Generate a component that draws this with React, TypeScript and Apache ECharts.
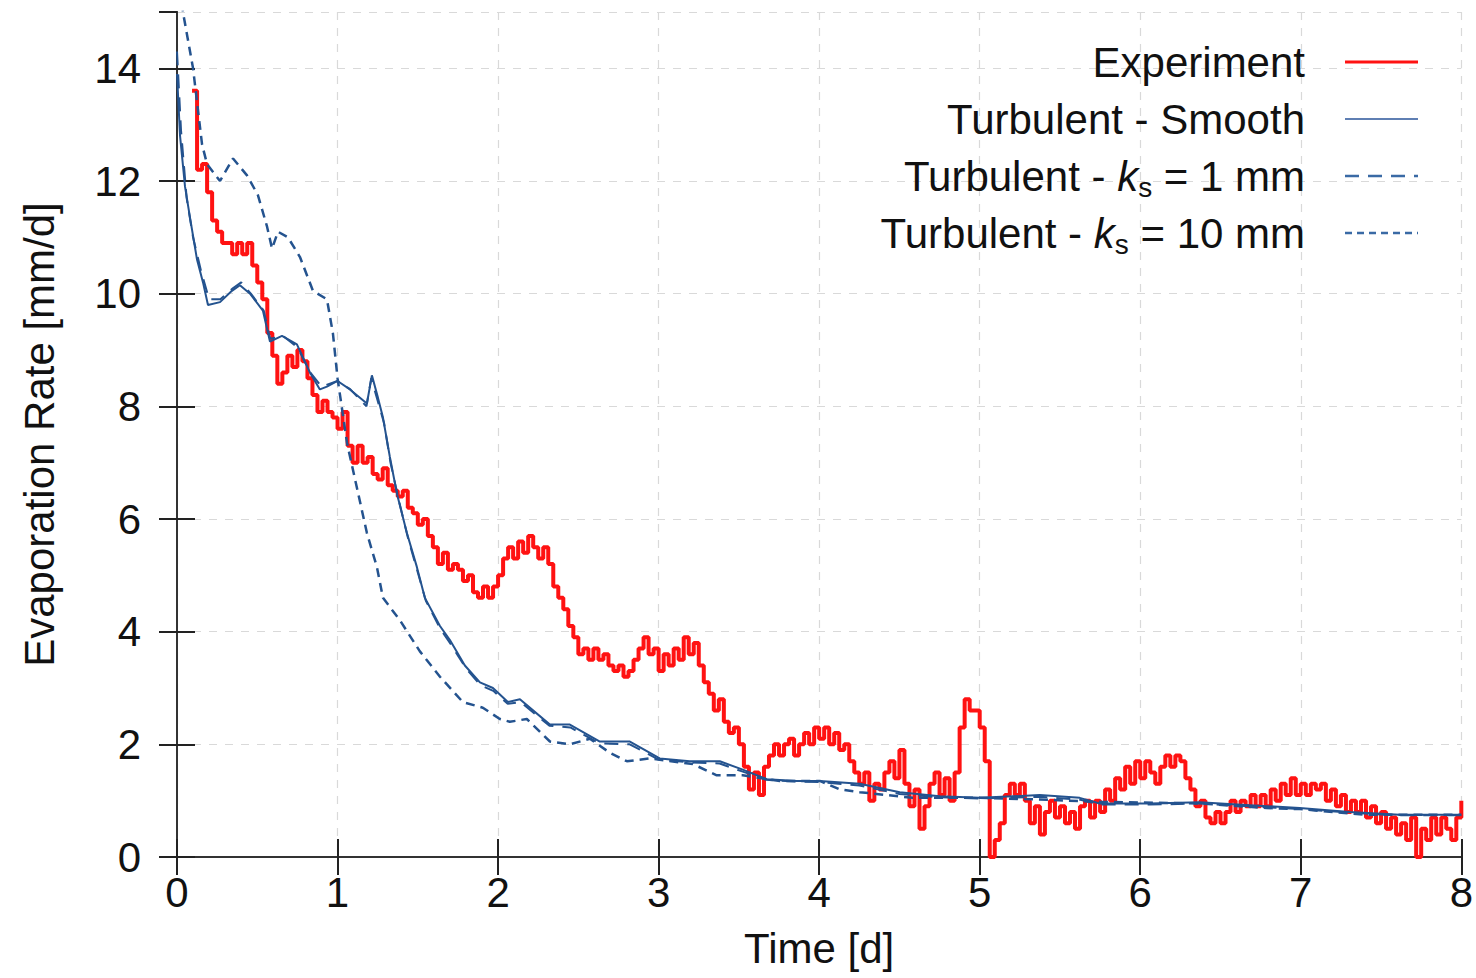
import React, { useEffect, useRef } from "react";
import * as echarts from "echarts";

// Experiment: sampled every 1/32 day starting at t = 3/32 d
const expStartIndex = 3;
const expStepDay = 1 / 32;
const expValues = [
  13.6, 12.2, 12.3, 11.8, 11.3, 11.1, 10.9, 10.9, 10.7, 10.9,
  10.7, 10.9, 10.5, 10.2, 9.9, 9.3, 8.9, 8.4, 8.6, 8.9,
  8.7, 9.0, 8.8, 8.5, 8.2, 7.9, 8.1, 7.9, 7.8, 7.6,
  7.9, 7.3, 7.0, 7.3, 7.0, 7.1, 6.8, 6.7, 6.9, 6.6,
  6.5, 6.4, 6.5, 6.2, 6.1, 5.9, 6.0, 5.7, 5.5, 5.2,
  5.4, 5.1, 5.2, 5.1, 4.9, 5.0, 4.7, 4.6, 4.8, 4.6,
  4.8, 5.0, 5.3, 5.5, 5.3, 5.6, 5.4, 5.7, 5.5, 5.3,
  5.5, 5.2, 4.8, 4.6, 4.4, 4.1, 3.9, 3.6, 3.7, 3.5,
  3.7, 3.5, 3.6, 3.4, 3.3, 3.4, 3.2, 3.3, 3.5, 3.7,
  3.9, 3.6, 3.7, 3.3, 3.6, 3.4, 3.7, 3.5, 3.9, 3.6,
  3.8, 3.4, 3.1, 2.9, 2.6, 2.8, 2.4, 2.2, 2.3, 2.0,
  1.6, 1.2, 1.5, 1.1, 1.6, 1.8, 2.0, 1.8, 2.0, 2.1,
  1.8, 2.0, 2.2, 2.0, 2.3, 2.1, 2.3, 2.0, 2.2, 1.9,
  2.0, 1.7, 1.5, 1.3, 1.5, 1.0, 1.3, 1.2, 1.5, 1.7,
  1.4, 1.9, 1.3, 0.9, 1.2, 0.5, 0.9, 1.3, 1.5, 1.1,
  1.4, 1.0, 1.5, 2.3, 2.8, 2.6, 2.6, 2.3, 1.7, 0.0,
  0.3, 0.6, 1.1, 1.3, 1.1, 1.3, 1.0, 0.6, 0.9, 0.4,
  0.8, 1.0, 0.7, 0.9, 0.6, 0.8, 0.5, 0.9, 1.0, 0.7,
  1.0, 0.8, 1.2, 1.0, 1.4, 1.2, 1.6, 1.3, 1.7, 1.4,
  1.7, 1.5, 1.3, 1.6, 1.8, 1.6, 1.8, 1.7, 1.4, 1.2,
  0.9, 1.0, 0.7, 0.6, 0.8, 0.6, 0.8, 1.0, 0.8, 1.0,
  0.9, 1.1, 0.9, 1.1, 0.9, 1.2, 1.0, 1.3, 1.1, 1.4,
  1.1, 1.3, 1.1, 1.3, 1.2, 1.3, 1.0, 1.2, 0.9, 1.1,
  0.8, 1.0, 0.8, 1.0, 0.7, 0.9, 0.6, 0.8, 0.5, 0.7,
  0.4, 0.6, 0.3, 0.7, 0.0, 0.5, 0.3, 0.7, 0.4, 0.7,
  0.5, 0.3, 0.7, 1.0,
];

// Turbulent - Smooth
const smoothT = [
  0, 0.019, 0.05, 0.081, 0.125, 0.162, 0.193, 0.268, 0.342, 0.392,
  0.455, 0.535, 0.579, 0.654, 0.747, 0.828, 0.89, 0.934, 1.0, 1.077,
  1.183, 1.214, 1.252, 1.283, 1.326, 1.37, 1.432, 1.494, 1.544, 1.638,
  1.7, 1.793, 1.887, 1.968, 2.061, 2.136, 2.323, 2.447, 2.634, 2.821,
  3.007, 3.194, 3.381, 3.524, 3.674, 3.861, 4.004, 4.253, 4.502, 4.751,
  5.0, 5.374, 5.623, 5.747, 6.059, 6.37, 6.681, 6.993, 7.304, 7.615, 8.0,
];
const smoothV = [
  13.9, 12.8, 11.9, 11.35, 10.6, 10.2, 9.8, 9.85, 10.05, 10.15,
  10.0, 9.7, 9.15, 9.25, 9.1, 8.6, 8.3, 8.35, 8.45, 8.3,
  8.05, 8.55, 8.15, 7.8, 7.1, 6.45, 5.75, 5.15, 4.6, 4.1,
  3.85, 3.4, 3.1, 3.0, 2.75, 2.8, 2.35, 2.35, 2.05, 2.05,
  1.75, 1.7, 1.7, 1.55, 1.38, 1.35, 1.35, 1.3, 1.15, 1.08,
  1.05, 1.1, 1.05, 0.95, 0.95, 0.97, 0.92, 0.87, 0.8, 0.75, 0.75,
];

// Turbulent - ks = 1 mm (nearly coincides with the smooth curve)
const ks1T = [
  0, 0.025, 0.06, 0.1, 0.15, 0.2, 0.27, 0.35, 0.4, 0.46,
  0.54, 0.58, 0.66, 0.75, 0.83, 0.9, 1.0, 1.08, 1.18, 1.21,
  1.25, 1.29, 1.33, 1.38, 1.44, 1.5, 1.55, 1.64, 1.7, 1.8,
  1.89, 1.97, 2.06, 2.14, 2.32, 2.45, 2.63, 2.82, 3.0, 3.2,
  3.38, 3.52, 3.67, 3.86, 4.0, 4.25, 4.5, 4.75, 5.0, 5.37,
  5.62, 5.75, 6.06, 6.37, 6.68, 7.0, 7.3, 7.6, 8.0,
];
const ks1V = [
  14.3, 12.9, 11.7, 11.0, 10.4, 9.9, 9.9, 10.1, 10.2, 10.0,
  9.7, 9.2, 9.25, 9.05, 8.6, 8.35, 8.45, 8.3, 8.0, 8.5,
  8.1, 7.7, 7.0, 6.35, 5.65, 5.05, 4.55, 4.05, 3.8, 3.35,
  3.05, 2.95, 2.72, 2.75, 2.33, 2.3, 2.02, 2.0, 1.73, 1.68,
  1.66, 1.52, 1.37, 1.34, 1.33, 1.27, 1.12, 1.06, 1.04, 1.07,
  1.02, 0.93, 0.93, 0.95, 0.9, 0.85, 0.79, 0.74, 0.74,
];

// Turbulent - ks = 10 mm
const ks10T = [
  0, 0.037, 0.1, 0.156, 0.187, 0.268, 0.349, 0.436, 0.504, 0.56,
  0.592, 0.629, 0.691, 0.766, 0.847, 0.934, 0.971, 1.0, 1.059, 1.121,
  1.183, 1.245, 1.283, 1.389, 1.513, 1.638, 1.781, 1.905, 2.011, 2.073,
  2.179, 2.323, 2.447, 2.572, 2.696, 2.802, 2.945, 3.213, 3.362, 3.524,
  3.755, 4.004, 4.128, 4.253, 4.583, 5.0, 5.374, 5.747, 6.37, 6.787,
  6.993, 7.41, 8.0,
];
const ks10V = [
  16.5, 15.0, 14.0, 12.65, 12.3, 12.0, 12.4, 12.1, 11.75, 11.2,
  10.8, 11.1, 11.0, 10.65, 10.05, 9.9, 9.3, 8.5, 7.35, 6.55,
  5.75, 5.15, 4.6, 4.2, 3.65, 3.2, 2.75, 2.65, 2.45, 2.4,
  2.45, 2.05, 2.0, 2.1, 1.85, 1.7, 1.75, 1.65, 1.45, 1.45,
  1.35, 1.35, 1.2, 1.15, 1.05, 1.05, 1.02, 0.98, 0.95, 0.87,
  0.85, 0.75, 0.75,
];

const xMin = 0;
const xMax = 8;
const xInterval = 1;
const yMin = 0;
const yMax = 15;
const yInterval = 2;

const legendNames = [
  "Experiment",
  "Turbulent - Smooth",
  "Turbulent - {ki|k}{sub|s} = 1 mm",
  "Turbulent - {ki|k}{sub|s} = 10 mm",
];

const FONT = "'Liberation Sans', Arial, sans-serif";
const RED = "#ff1212";
const BLUE = "#24538f";

export default function App() {
  const ref = useRef<HTMLDivElement>(null);

  useEffect(() => {
    if (!ref.current) return;
    const chart = echarts.init(ref.current, undefined, { renderer: "svg" });

    const expData = expValues.map((v, i) => [(i + expStartIndex) * expStepDay, v]);
    const smoothData = smoothT.map((t, i) => [t, smoothV[i]]);
    const ks1Data = ks1T.map((t, i) => [t, ks1V[i]]);
    const ks10Data = ks10T.map((t, i) => [t, ks10V[i]]);

    const axisLine = { show: true, lineStyle: { color: "#333", width: 2 } };
    const axisTick = { show: true, inside: true, length: 18, lineStyle: { color: "#222", width: 2 } };
    const splitLine = { show: true, lineStyle: { color: "#d9d9d9", width: 1.2, type: [8, 8] } };

    const rich = {
      ki: { fontStyle: "italic", fontSize: 42, fontFamily: FONT, color: "#111", lineHeight: 50, verticalAlign: "middle" },
      sub: { fontSize: 28, fontFamily: FONT, color: "#111", lineHeight: 28, verticalAlign: "bottom" },
    };

    const legendRowsY = [62, 119, 176, 233];
    const legendStyles = [
      { lineDash: null, lineWidth: 3, stroke: RED },
      { lineDash: null, lineWidth: 2, stroke: "#5f7fb3" },
      { lineDash: [14, 9], lineWidth: 2.5, stroke: "#3a6aa5" },
      { lineDash: [7, 5], lineWidth: 2.5, stroke: "#3a6aa5" },
    ];

    const graphics: any[] = [];
    legendNames.forEach((name, i) => {
      graphics.push({
        type: "text",
        x: 1305,
        y: legendRowsY[i],
        style: {
          text: name,
          align: "right",
          verticalAlign: "middle",
          fontSize: 42,
          fontFamily: FONT,
          fill: "#111",
          lineHeight: 50,
          rich,
        },
        z: 100,
      });
      graphics.push({
        type: "line",
        shape: { x1: 1345, y1: legendRowsY[i], x2: 1418, y2: legendRowsY[i] },
        style: {
          stroke: legendStyles[i].stroke,
          lineWidth: legendStyles[i].lineWidth,
          lineDash: legendStyles[i].lineDash || undefined,
        },
        z: 100,
      });
    });

    chart.setOption({
      animation: false,
      backgroundColor: "#ffffff",
      grid: { left: 177, right: 14, top: 12, bottom: 121, containLabel: false },
      xAxis: [
        {
          type: "value",
          min: xMin,
          max: xMax,
          interval: xInterval,
          position: "bottom",
          axisLine,
          axisTick,
          splitLine,
          axisLabel: { fontSize: 42, fontFamily: FONT, color: "#111", margin: 14 },
          name: "Time [d]",
          nameLocation: "middle",
          nameGap: 70,
          nameTextStyle: { fontSize: 42, fontFamily: FONT, color: "#111" },
        },
        {
          type: "value",
          min: xMin,
          max: xMax,
          interval: xInterval,
          position: "top",
          axisLine,
          axisTick,
          splitLine: { show: false },
          axisLabel: { show: false },
        },
      ],
      yAxis: [
        {
          type: "value",
          min: yMin,
          max: yMax,
          interval: yInterval,
          position: "left",
          axisLine,
          axisTick,
          splitLine,
          axisLabel: { fontSize: 42, fontFamily: FONT, color: "#111", margin: 36, showMaxLabel: false },
          name: "Evaporation Rate [mm/d]",
          nameLocation: "middle",
          nameGap: 117,
          nameTextStyle: { fontSize: 42, fontFamily: FONT, color: "#111" },
        },
        {
          type: "value",
          min: yMin,
          max: yMax,
          interval: yInterval,
          position: "right",
          axisLine,
          axisTick,
          splitLine: { show: false },
          axisLabel: { show: false },
        },
      ],
      series: [
        {
          name: "Experiment",
          type: "line",
          data: expData,
          step: "end",
          symbol: "none",
          lineStyle: { color: RED, width: 4 },
          z: 2,
        },
        {
          name: "Turbulent - Smooth",
          type: "line",
          data: smoothData,
          symbol: "none",
          lineStyle: { color: BLUE, width: 2 },
          z: 3,
        },
        {
          name: "Turbulent - ks = 1 mm",
          type: "line",
          data: ks1Data,
          symbol: "none",
          lineStyle: { color: BLUE, width: 2, type: [14, 9] },
          z: 3,
        },
        {
          name: "Turbulent - ks = 10 mm",
          type: "line",
          data: ks10Data,
          symbol: "none",
          lineStyle: { color: BLUE, width: 2.5, type: [9, 6] },
          z: 3,
        },
      ],
      graphic: graphics,
    });

    return () => chart.dispose();
  }, []);

  return (
    <div
      ref={ref}
      style={{ position: "fixed", left: 0, top: 0, width: 1476, height: 978, background: "#fff" }}
    />
  );
}
